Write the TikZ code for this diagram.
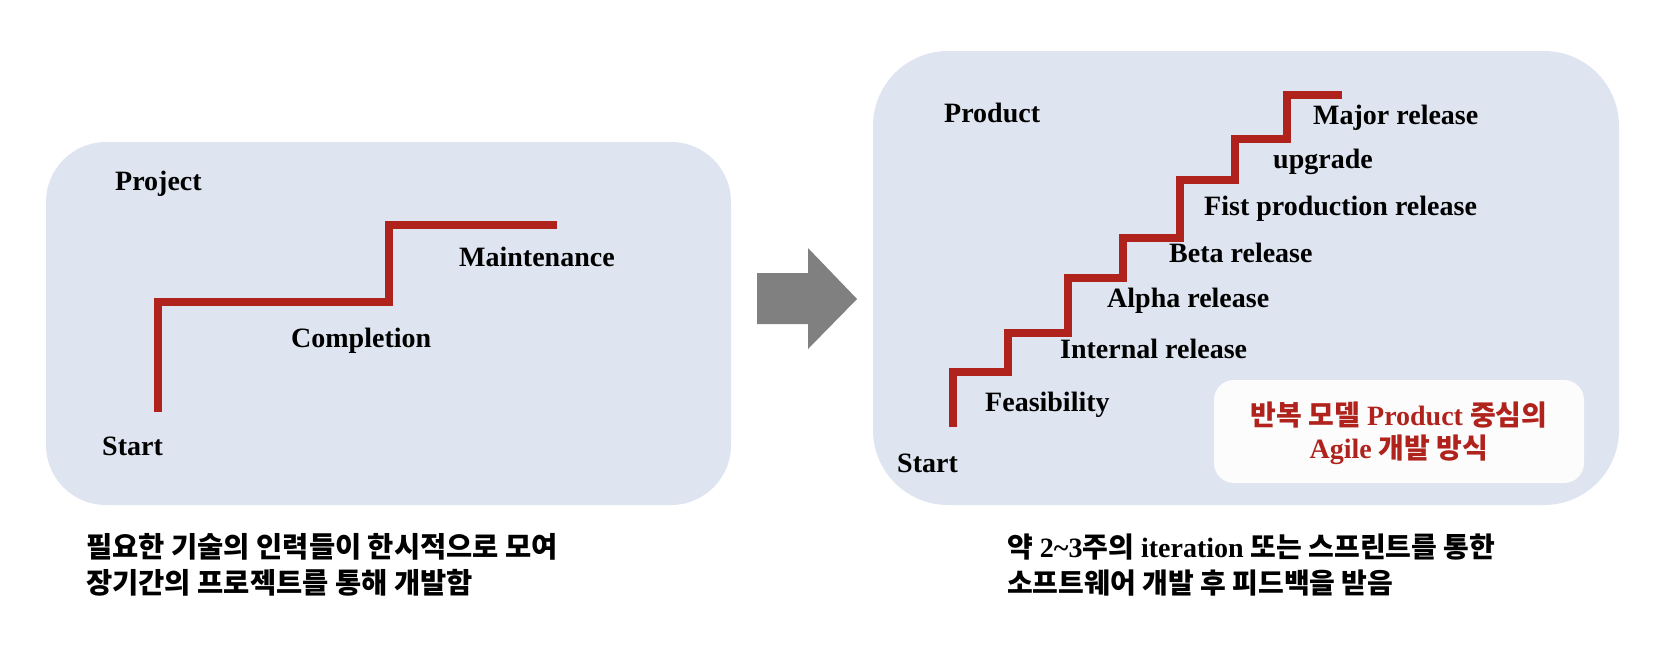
\documentclass[tikz,border=0pt]{standalone}
\usepackage{fontspec}
\setmainfont{Liberation Serif}
\newfontfamily\kr{Noto Sans CJK KR}
\definecolor{panel}{HTML}{DEE5F0}
\definecolor{stair}{HTML}{B0231C}
\definecolor{arrowgray}{HTML}{808080}
\definecolor{notefill}{HTML}{FCFCFD}
\begin{document}
\begin{tikzpicture}[x=1pt,y=-1pt,
  panelbox/.style={fill=panel},
  stairline/.style={draw=stair, line width=7.5pt, line join=miter},
  lbl/.style={anchor=base west, inner sep=0pt, font=\fontsize{28}{34}\selectfont\bfseries},
  caption/.style={anchor=base west, inner sep=0pt, font=\fontsize{#1}{#1}\selectfont\bfseries},
  notetext/.style={anchor=base, inner sep=0pt, text=stair, font=\fontsize{28}{32}\selectfont\bfseries}]
\useasboundingbox[fill=white] (0,0) rectangle (1678,670);

% panels
\fill[panelbox, rounded corners=60pt] (46,142) rectangle (731,505);
\fill[panelbox, rounded corners=75pt] (873,51) rectangle (1619,505);

% arrow
\fill[arrowgray] (757,273) -- (808,273) -- (808,248) -- (857,299) -- (808,349) -- (808,324) -- (757,324) -- cycle;

% left stairs
\draw[stairline] (158,412) -- (158,302) -- (389,302) -- (389,225) -- (557,225);

\node[lbl] (proj) at (115,190) {Project};
\node[lbl] (compl) at (291,347) {Completion};
\node[lbl] (maint) at (459,266) {Maintenance};
\node[lbl] (lstart) at (102,455) {Start};

% right stairs
\draw[stairline] (953,427) -- (953,372) -- (1008,372) -- (1008,333) -- (1068,333)
  -- (1068,278) -- (1123,278) -- (1123,238) -- (1180,238) -- (1180,180)
  -- (1235,180) -- (1235,139) -- (1287,139) -- (1287,95) -- (1342,95);

\node[lbl] (prod) at (944,122) {Product};
\node[lbl] (major) at (1313,124) {Major release};
\node[lbl] (upg) at (1273,168) {upgrade};
\node[lbl] (fist) at (1204,215) {Fist production release};
\node[lbl] (beta) at (1169,262) {Beta release};
\node[lbl] (alpha) at (1107,307) {Alpha release};
\node[lbl] (internal) at (1060,358) {Internal release};
\node[lbl] (feas) at (985,411) {Feasibility};
\node[lbl] (rstart) at (897,472) {Start};

% note box
\fill[notefill, rounded corners=20pt] (1214,380) rectangle (1584,483);
\node[notetext] (note1) at (1399,425) {{\kr 반복 모델} Product {\kr 중심의}};
\node[notetext] (note2) at (1399,458) {Agile {\kr 개발 방식}};

% captions
\node[caption=28.5] (capl1) at (86,557) {\kr 필요한 기술의 인력들이 한시적으로 모여};
\node[caption=28.5] (capl2) at (86,593) {\kr 장기간의 프로젝트를 통해 개발함};
\node[caption=28] (capr1) at (1007,557) {{\kr 약} 2\char"7E 3{\kr 주의} iteration {\kr 또는 스프린트를 통한}};
\node[caption=28] (capr2) at (1007,593) {\kr 소프트웨어 개발 후 피드백을 받음};
\end{tikzpicture}
\end{document}
